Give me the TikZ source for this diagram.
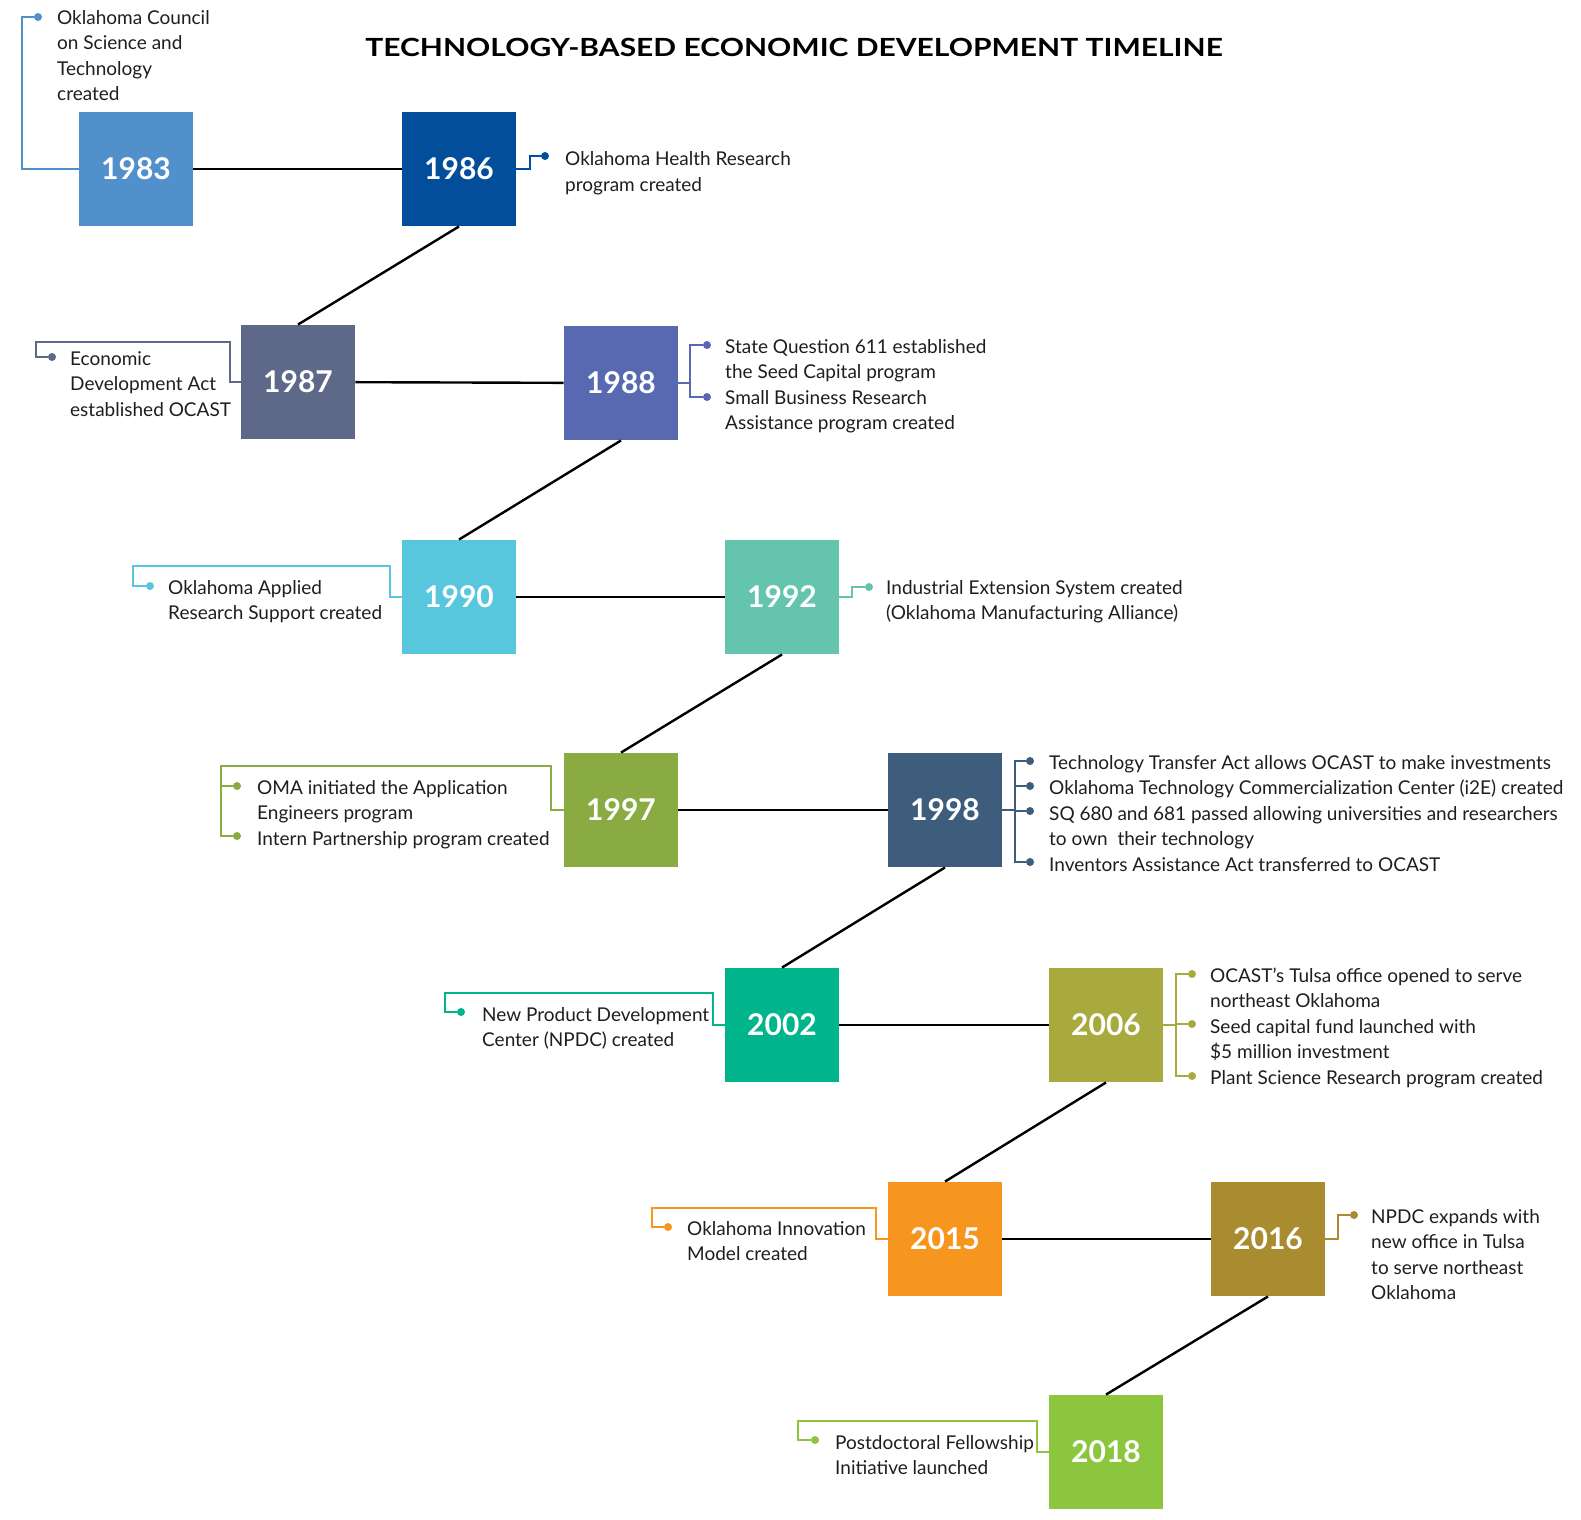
\documentclass[tikz,border=0pt]{standalone}
\usepackage{fontspec}
\setmainfont{Lato}
\definecolor{c1983}{RGB}{82,144,204}
\definecolor{c1986}{RGB}{3,78,154}
\definecolor{c1987}{RGB}{94,104,137}
\definecolor{c1988}{RGB}{88,105,178}
\definecolor{c1990}{RGB}{88,198,221}
\definecolor{c1992}{RGB}{100,196,174}
\definecolor{c1997}{RGB}{138,170,66}
\definecolor{c1998}{RGB}{62,92,124}
\definecolor{c2002}{RGB}{0,180,139}
\definecolor{c2006}{RGB}{169,170,62}
\definecolor{c2015}{RGB}{246,150,30}
\definecolor{c2016}{RGB}{169,139,48}
\definecolor{c2018}{RGB}{140,198,63}
\definecolor{txt}{RGB}{30,30,30}
\tikzset{
  yearbox/.style={minimum size=114.5pt,inner sep=0pt,text=white,
    font=\fontsize{30}{30}\selectfont\bfseries},
  link/.style={line width=2.4pt,black},
  brace/.style={line width=2pt},
  dot/.style={circle,minimum size=8pt,inner sep=0pt},
  % anchored at the baseline of the last line
  note/.style={anchor=base west,inner sep=0pt,align=left,text=txt,
    font=\fontsize{19}{25.5}\selectfont}
}
\begin{document}
\begin{tikzpicture}[x=1pt,y=-1pt]
\useasboundingbox (0,0) rectangle (1581,1519);

\node (title) at (794,47) {\scalebox{1.2}[1]{\fontsize{25}{25}\selectfont\bfseries TECHNOLOGY-BASED ECONOMIC DEVELOPMENT TIMELINE}};

% year boxes
\node[yearbox,fill=c1983] (y1983) at (136,169) {1983};
\node[yearbox,fill=c1986] (y1986) at (459,169) {1986};
\node[yearbox,fill=c1987] (y1987) at (298,382) {1987};
\node[yearbox,fill=c1988] (y1988) at (621,383) {1988};
\node[yearbox,fill=c1990] (y1990) at (459,597) {1990};
\node[yearbox,fill=c1992] (y1992) at (782,597) {1992};
\node[yearbox,fill=c1997] (y1997) at (621,810) {1997};
\node[yearbox,fill=c1998] (y1998) at (945,810) {1998};
\node[yearbox,fill=c2002] (y2002) at (782,1025) {2002};
\node[yearbox,fill=c2006] (y2006) at (1106,1025) {2006};
\node[yearbox,fill=c2015] (y2015) at (945,1239) {2015};
\node[yearbox,fill=c2016] (y2016) at (1268,1239) {2016};
\node[yearbox,fill=c2018] (y2018) at (1106,1452) {2018};

\draw[link] (y1983) -- (y1986);
\draw[link] (y1986.south) -- (y1987.north);
\draw[link] (y1987) -- (y1988);
\draw[link] (y1988.south) -- (y1990.north);
\draw[link] (y1990) -- (y1992);
\draw[link] (y1992.south) -- (y1997.north);
\draw[link] (y1997) -- (y1998);
\draw[link] (y1998.south) -- (y2002.north);
\draw[link] (y2002) -- (y2006);
\draw[link] (y2006.south) -- (y2015.north);
\draw[link] (y2015) -- (y2016);
\draw[link] (y2016.south) -- (y2018.north);

% notes
\node[dot,fill=c1983] (d1983) at (38,17) {};
\node[note] (t1983) at (57,100.5) {Oklahoma Council\\on Science and\\Technology\\created};
\draw[brace,c1983] (y1983.west) -| (22,17) -- (d1983);

\node[dot,fill=c1986] (d1986) at (545,156) {};
\node[note] (t1986) at (565,191) {Oklahoma Health Research\\program created};
\draw[brace,c1986] (y1986.east) -- ++(14,0) |- (d1986);

\node[dot,fill=c1987] (d1987) at (52,357) {};
\node[note] (t1987) at (70,416) {Economic\\Development Act\\established OCAST};
\draw[brace,c1987] (y1987.west) -- ++(-11,0) |- (36,342) |- (d1987);

\node[dot,fill=c1988] (d1988a) at (707,345) {};
\node[dot,fill=c1988] (d1988b) at (707,397) {};
\node[note] (t1988) at (725,429.5) {State Question 611 established\\the Seed Capital program\\Small Business Research\\Assistance program created};
\coordinate (s1988) at (690,383);
\draw[brace,c1988] (y1988.east) -- (s1988);
\draw[brace,c1988] (d1988a) -| (s1988) |- (d1988b);

\node[dot,fill=c1990] (d1990) at (150,586) {};
\node[note] (t1990) at (168,619.5) {Oklahoma Applied\\Research Support created};
\draw[brace,c1990] (y1990.west) -- ++(-12,0) |- (133,566) |- (d1990);

\node[dot,fill=c1992] (d1992) at (869,587) {};
\node[note] (t1992) at (886,619.5) {Industrial Extension System created\\(Oklahoma Manufacturing Alliance)};
\draw[brace,c1992] (y1992.east) -- ++(13,0) |- (d1992);

\node[dot,fill=c1997] (d1997a) at (237,786) {};
\node[dot,fill=c1997] (d1997b) at (237,836) {};
\node[note] (t1997) at (257,845) {OMA initiated the Application\\Engineers program\\Intern Partnership program created};
\draw[brace,c1997] (y1997.west) -- ++(-13,0) |- (221,766) |- (d1997b);
\draw[brace,c1997] (221,786) -- (d1997a);

\node[dot,fill=c1998] (d1998a) at (1030,761) {};
\node[dot,fill=c1998] (d1998b) at (1030,786) {};
\node[dot,fill=c1998] (d1998c) at (1030,811) {};
\node[dot,fill=c1998] (d1998d) at (1030,862) {};
\node[note] (t1998) at (1049,871) {Technology Transfer Act allows OCAST to make investments\\Oklahoma Technology Commercialization Center (i2E) created\\SQ 680 and 681 passed allowing universities and researchers\\to own\ \ their technology\\Inventors Assistance Act transferred to OCAST};
\coordinate (s1998) at (1015,810);
\draw[brace,c1998] (y1998.east) -- (s1998);
\draw[brace,c1998] (d1998a) -| (s1998) |- (d1998d);
\draw[brace,c1998] (d1998b) -| (s1998);
\draw[brace,c1998] (d1998c) -| (s1998);

\node[dot,fill=c2002] (d2002) at (461,1012) {};
\node[note] (t2002) at (482,1046.5) {New Product Development\\Center (NPDC) created};
\draw[brace,c2002] (y2002.west) -- ++(-12,0) |- (445,993) |- (d2002);

\node[dot,fill=c2006] (d2006a) at (1192,974) {};
\node[dot,fill=c2006] (d2006b) at (1192,1024) {};
\node[dot,fill=c2006] (d2006c) at (1192,1076) {};
\node[note] (t2006) at (1210,1084) {OCAST’s Tulsa office opened to serve\\northeast Oklahoma\\Seed capital fund launched with\\\$5 million investment\\Plant Science Research program created};
\coordinate (s2006) at (1176,1025);
\draw[brace,c2006] (y2006.east) -- (s2006);
\draw[brace,c2006] (d2006a) -| (s2006) |- (d2006c);
\draw[brace,c2006] (d2006b) -| (s2006);

\node[dot,fill=c2015] (d2015) at (668,1227) {};
\node[note] (t2015) at (687,1260.5) {Oklahoma Innovation\\Model created};
\draw[brace,c2015] (y2015.west) -- ++(-12,0) |- (652,1208) |- (d2015);

\node[dot,fill=c2016] (d2016) at (1354,1215) {};
\node[note] (t2016) at (1371,1299.5) {NPDC expands with\\new office in Tulsa\\to serve northeast\\Oklahoma};
\draw[brace,c2016] (y2016.east) -- ++(13,0) |- (d2016);

\node[dot,fill=c2018] (d2018) at (815,1440) {};
\node[note] (t2018) at (835,1474.5) {Postdoctoral Fellowship\\Initiative launched};
\draw[brace,c2018] (y2018.west) -- ++(-12,0) |- (798,1421) |- (d2018);
\end{tikzpicture}
\end{document}
